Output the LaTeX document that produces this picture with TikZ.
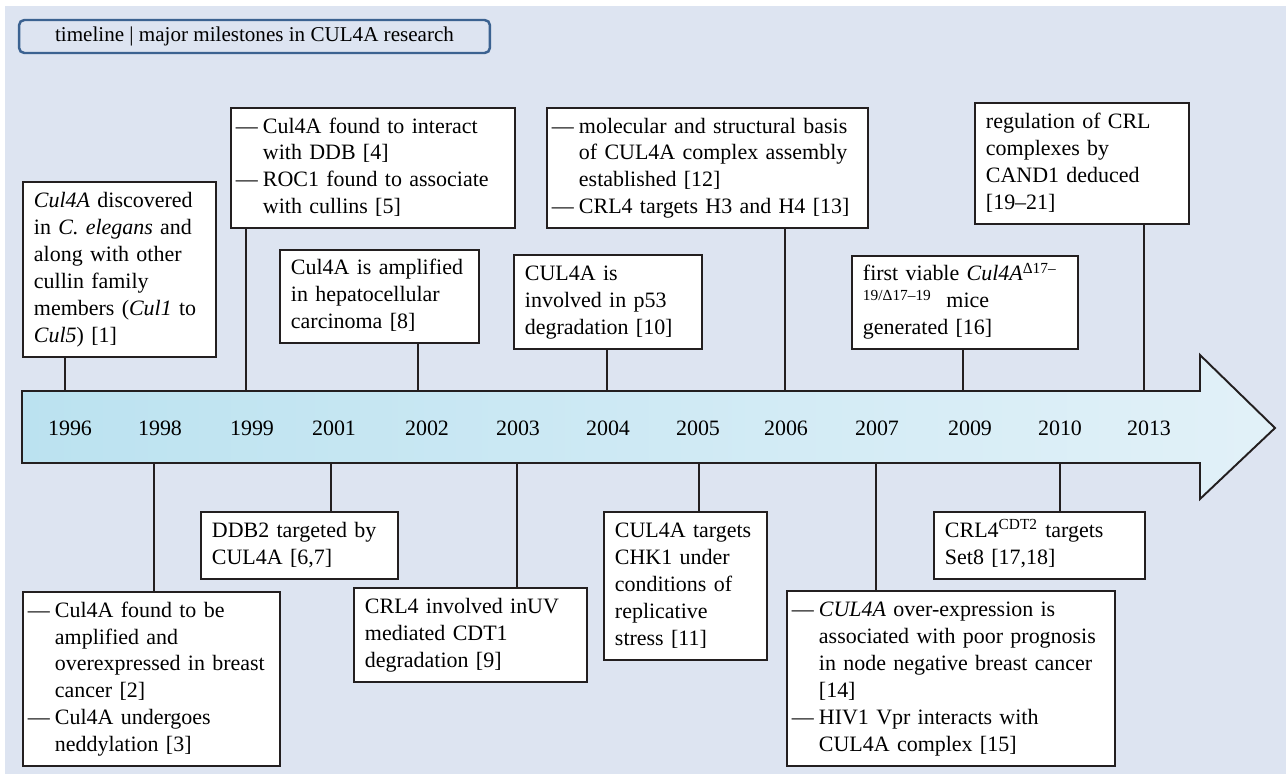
\documentclass[tikz,border=0pt]{standalone}
\usepackage{fontspec}
\setmainfont{Liberation Serif}
\usepackage{tikz}
\usetikzlibrary{calc}
\definecolor{bgblue}{HTML}{DDE4F1}
\definecolor{framedark}{HTML}{231F20}
\definecolor{titleblue}{HTML}{3B6291}
\definecolor{arrowleft}{HTML}{BBE2F0}
\definecolor{arrowright}{HTML}{E2F1F8}
\newcommand{\lines}[1]{\begin{tabular}{@{}l@{}}#1\end{tabular}}
\newcommand{\dashlines}[1]{\begin{tabular}{@{}l@{}l@{}}#1\end{tabular}}
\newcommand{\dd}{\makebox[0.54cm][l]{---}}

\begin{document}
\begin{tikzpicture}[x=0.02cm,y=-0.02cm]
\tikzset{
	every node/.style = {font = \fontsize{12.5}{15.3}\selectfont},
	event node/.style = {draw = framedark, line width = 1.1pt, fill = white, anchor = north west, align = left, inner xsep = 0.22cm, inner ysep = 0.08cm},
	dash node/.style = {event node, inner xsep = 0.1cm},
	year node/.style = {inner sep = 0},
	link/.style = {draw = framedark, line width = 1.1pt},
	title node/.style = {draw = titleblue, line width = 1.4pt, rounded corners = 3pt, minimum width = 9.42cm, minimum height = 0.66cm, inner sep = 0, font = \fontsize{12}{14}\selectfont},
}

\useasboundingbox (0,0) rectangle (1286,774);
\fill[bgblue] (5,6) rectangle (1286,774);

\node(title)[title node] at (254.5,36.5) {timeline | major milestones in CUL4A research};

\draw[framedark, line width = 1.1pt, left color = arrowleft, right color = arrowright]
	(22,391) -- (1200,391) -- (1200,355) -- (1275,428) -- (1200,499) -- (1200,463) -- (22,463) -- cycle;

\foreach \yr/\x in {1996/70, 1998/160, 1999/252, 2001/334, 2002/427, 2003/518, 2004/608, 2005/698, 2006/786, 2007/877, 2009/970, 2010/1060, 2013/1149}
	\node(y\yr)[year node] at (\x,428) {\yr};

\foreach \n/\x in {96/65, 99/246, 02/418, 04/607, 06/785, 09/963, 13/1144}
	\coordinate (t\n) at (\x,391);
\foreach \n/\x in {98/154, 01/331, 03/517, 05/699, 07/876, 10/1060}
	\coordinate (u\n) at (\x,463);

\node(b96)[event node, text width = 3.42cm, minimum height = 3.5cm] at (22,181)
	{\lines{\textit{Cul4A} discovered\\ in \textit{C. elegans} and\\ along with other\\ cullin family\\ members (\textit{Cul1} to\\ \textit{Cul5}) [1]}};
\node(b99)[dash node, text width = 5.48cm, minimum height = 2.4cm] at (230,107)
	{\dashlines{\dd & Cul4A found to interact\\ & with DDB [4]\\ \dd & ROC1 found to associate\\ & with cullins [5]}};
\node(b02)[event node, text width = 3.54cm, minimum height = 1.86cm] at (279,249)
	{\lines{Cul4A is amplified\\ in hepatocellular\\ carcinoma [8]}};
\node(b04)[event node, text width = 3.32cm, minimum height = 1.88cm] at (513,254)
	{\lines{CUL4A is\\ involved in p53\\ degradation [10]}};
\node(b06)[dash node, text width = 6.22cm, minimum height = 2.4cm] at (546,107)
	{\dashlines{\dd & molecular and structural basis\\ & of CUL4A complex assembly\\ & established [12]\\ \dd & CRL4 targets H3 and H4 [13]}};
\node(b09)[event node, text width = 4.08cm, minimum height = 1.86cm] at (851,255)
	{\lines{first viable \textit{Cul4A}\textsuperscript{Δ17–}\\ \textsuperscript{19/Δ17–19}\ \ mice\\ generated [16]}};
\node(b13)[event node, text width = 3.84cm, minimum height = 2.42cm] at (974,102)
	{\lines{regulation of CRL\\ complexes by\\ CAND1 deduced\\ {}[19–21]}};

\node(b98)[dash node, text width = 4.94cm, minimum height = 3.48cm] at (22,591)
	{\dashlines{\dd & Cul4A found to be\\ & amplified and\\ & overexpressed in breast\\ & cancer [2]\\ \dd & Cul4A undergoes\\ & neddylation [3]}};
\node(b01)[event node, text width = 3.5cm, minimum height = 1.34cm] at (200,511)
	{\lines{DDB2 targeted by\\ CUL4A [6,7]}};
\node(b03)[event node, text width = 4.22cm, minimum height = 1.88cm] at (353,587)
	{\lines{CRL4 involved inUV\\ mediated CDT1\\ degradation [9]}};
\node(b05)[event node, text width = 2.82cm, minimum height = 2.96cm] at (603,511)
	{\lines{CUL4A targets\\ CHK1 under\\ conditions of\\ replicative\\ stress [11]}};
\node(b07)[dash node, text width = 6.36cm, minimum height = 3.5cm] at (786,590)
	{\dashlines{\dd & \textit{CUL4A} over-expression is\\ & associated with poor prognosis\\ & in node negative breast cancer\\ & {}[14]\\ \dd & HIV1 Vpr interacts with\\ & CUL4A complex [15]}};
\node(b10)[event node, text width = 3.78cm, minimum height = 1.34cm] at (933,511)
	{\lines{CRL4\textsuperscript{CDT2} targets\\ Set8 [17,18]}};

\foreach \n in {96, 99, 02, 04, 06, 09, 13}
	\draw[link] (b\n.south -| t\n) -- (t\n);
\foreach \n in {98, 01, 03, 05, 07, 10}
	\draw[link] (u\n) -- (b\n.north -| u\n);

\end{tikzpicture}
\end{document}
